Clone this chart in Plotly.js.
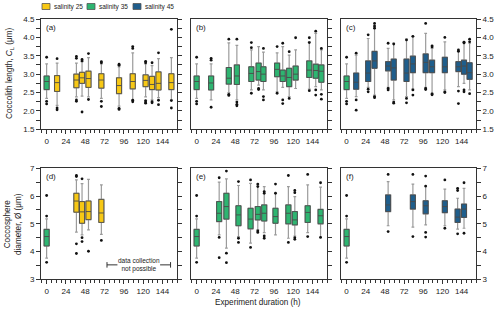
<!DOCTYPE html>
<html><head><meta charset="utf-8">
<script src="https://cdn.plot.ly/plotly-3.0.1.min.js"></script>
<style>html,body{margin:0;padding:0;background:#fff}#chart{width:500px;height:319px}</style>
</head><body><div id="chart"></div>
<script>
// ---------- data ----------
const seriesNames = ['salinity 25', 'salinity 35', 'salinity 45'];
const seriesColors = ['#F7C815', '#2EB571', '#1F5E8C'];
const panelLabels = ['(a)', '(b)', '(c)', '(d)', '(e)', '(f)'];

// control (t = 0, salinity 35) coccolith length
const ctrlL_q1 = [2.58], ctrlL_med = [2.80], ctrlL_q3 = [2.95], ctrlL_lo = [2.34], ctrlL_hi = [3.28];
const ctrlL_out = [[3.46, 2.26, 2.19]];
// control coccosphere diameter
const ctrlD_q1 = [4.20], ctrlD_med = [4.54], ctrlD_q3 = [4.80], ctrlD_lo = [3.76], ctrlD_hi = [5.18];
const ctrlD_out = [[6.02, 5.28, 3.61]];

// (a) salinity 25, coccolith length
const aT   = [13, 37, 44, 52, 68, 90, 107, 123, 131, 139, 155];
const aQ1  = [2.53, 2.63, 2.75, 2.64, 2.62, 2.47, 2.60, 2.66, 2.58, 2.57, 2.58];
const aMed = [2.77, 2.84, 2.90, 2.88, 2.84, 2.69, 2.80, 2.83, 2.72, 2.75, 2.77];
const aQ3  = [2.96, 3.00, 3.05, 3.08, 3.01, 2.90, 3.01, 2.98, 2.94, 3.06, 3.01];
const aLo  = [2.15, 2.38, 2.40, 2.38, 2.34, 2.13, 2.30, 2.38, 2.30, 2.36, 2.30];
const aHi  = [3.30, 3.30, 3.34, 3.45, 3.28, 3.20, 3.58, 3.28, 3.23, 3.42, 3.45];
const aOut = [[3.42, 2.08, 2.03], [3.48, 3.43, 2.30, 2.26], [3.40, 3.36, 1.97], [3.56, 2.31],
              [3.34, 3.31, 2.26, 2.12], [3.27, 3.24, 2.07, 2.04], [3.75, 3.70, 2.29, 2.25],
              [3.35, 3.31, 2.28, 2.24, 2.21], [3.31, 2.25, 2.22], [3.58, 2.29, 2.17], [4.22, 2.28, 2.08]];

// (b) salinity 35, coccolith length
const bT   = [18, 40, 50, 68, 77, 83, 100, 107, 115, 123, 140, 148, 155];
const bQ1  = [2.57, 2.73, 2.72, 2.80, 2.84, 2.80, 2.93, 2.80, 2.66, 2.84, 2.91, 2.89, 2.78];
const bMed = [2.76, 2.89, 2.95, 3.02, 3.07, 3.00, 3.13, 2.95, 2.91, 3.00, 3.11, 3.10, 3.08];
const bQ3  = [2.95, 3.18, 3.25, 3.20, 3.30, 3.20, 3.30, 3.11, 3.16, 3.22, 3.36, 3.27, 3.25];
const bLo  = [2.30, 2.50, 2.30, 2.57, 2.70, 2.57, 2.52, 2.64, 2.39, 2.61, 2.59, 2.66, 2.57];
const bHi  = [3.28, 3.85, 3.78, 3.66, 3.75, 3.60, 3.58, 3.75, 3.52, 3.66, 3.88, 4.11, 3.66];
const bOut = [[3.43, 3.38, 2.10], [3.95, 2.45, 2.42], [3.95, 2.24, 2.18, 2.14], [3.86, 3.72, 2.48],
              [2.61, 2.58], [3.70, 2.39, 2.30], [3.75, 2.48], [3.84, 2.30, 2.20], [3.61, 2.34],
              [3.99], [3.99, 3.86, 2.55], [4.17, 2.57, 2.43], [3.70, 2.45, 2.32]];

// (c) salinity 45, coccolith length
const cT   = [12, 27, 35, 52, 59, 75, 83, 99, 107, 123, 140, 147, 154];
const cQ1  = [2.59, 2.80, 3.16, 3.09, 2.84, 2.80, 3.04, 3.04, 3.04, 3.04, 3.07, 3.00, 2.86];
const cMed = [2.78, 3.03, 3.36, 3.22, 3.17, 3.03, 3.28, 3.32, 3.20, 3.20, 3.20, 3.22, 3.04];
const cQ3  = [3.03, 3.36, 3.62, 3.34, 3.41, 3.41, 3.49, 3.55, 3.38, 3.46, 3.34, 3.38, 3.31];
const cLo  = [2.39, 2.64, 2.43, 2.64, 2.30, 2.39, 2.59, 2.64, 2.48, 2.57, 2.66, 2.75, 2.57];
const cHi  = [3.52, 3.97, 4.29, 3.70, 3.84, 3.95, 4.02, 4.11, 3.70, 3.88, 3.61, 3.88, 3.84];
const cOut = [[3.57, 2.30, 2.02], [4.07, 2.59, 2.52], [4.38, 4.31, 4.25, 2.39, 2.36], [3.84, 2.61, 2.57],
              [3.82, 2.24, 2.21], [3.93, 2.34, 2.22], [4.03, 2.57, 2.43], [4.38, 2.61, 2.58],
              [3.77, 3.74, 2.46, 2.44], [4.00, 2.52, 2.50], [3.66, 3.62, 2.54, 2.20],
              [3.87, 3.85, 2.57, 2.52], [3.95, 3.88, 2.47]];

// (d) salinity 25, coccosphere diameter
const dT   = [37, 44, 52, 68];
const dQ1  = [5.42, 5.02, 5.15, 5.05];
const dMed = [5.82, 5.43, 5.44, 5.39];
const dQ3  = [6.10, 5.80, 5.82, 5.88];
const dLo  = [4.70, 4.60, 4.78, 4.62];
const dHi  = [6.58, 6.45, 6.60, 6.40];
const dOut = [[6.74, 6.70, 4.28, 3.93], [6.62, 4.50, 4.36], [4.01], [4.40]];

// (e) salinity 35, coccosphere diameter
const eT   = [28, 37, 52, 67, 76, 84, 98, 114, 122, 138, 154];
const eQ1  = [5.08, 5.17, 4.93, 4.82, 5.14, 5.10, 5.02, 5.00, 4.96, 5.05, 5.00];
const eMed = [5.38, 5.62, 5.32, 5.17, 5.34, 5.38, 5.26, 5.38, 5.14, 5.41, 5.29];
const eQ3  = [5.80, 6.10, 5.65, 5.56, 5.62, 5.68, 5.56, 5.68, 5.44, 5.65, 5.52];
const eLo  = [4.60, 4.12, 4.54, 4.30, 4.78, 4.68, 4.60, 4.48, 4.56, 4.68, 4.51];
const eHi  = [6.50, 6.62, 6.38, 6.46, 6.40, 6.34, 6.10, 6.34, 5.98, 6.40, 6.32];
const eOut = [[6.66, 4.51, 3.78], [6.90, 3.94, 3.60], [6.52, 4.48, 4.33], [6.58, 4.15],
              [6.43, 6.34, 4.74, 4.69], [6.16, 6.10, 4.56, 4.48], [6.43, 6.10], [6.74, 4.33],
              [6.20, 6.12, 4.50, 4.44], [6.78, 4.54], [6.48, 4.51]];

// (f) salinity 45, coccosphere diameter
const fT   = [52, 83, 99, 123, 139, 147];
const fQ1  = [5.44, 5.53, 5.36, 5.40, 5.05, 5.23];
const fMed = [5.68, 5.80, 5.65, 5.62, 5.24, 5.53];
const fQ3  = [6.04, 6.04, 5.83, 5.83, 5.53, 5.71];
const fLo  = [4.93, 4.88, 4.96, 4.93, 4.81, 4.84];
const fHi  = [6.52, 6.43, 6.34, 6.25, 5.92, 6.28];
const fOut = [[6.78, 4.72], [6.78, 4.54], [6.72, 6.36, 4.69, 4.52], [6.58, 4.84], [6.28, 6.20, 4.64], [6.48, 4.66]];

const ctrlT = [0];
const naRange = [75, 154];   // "data collection not possible" span (h)

// ---------- drawing ----------
const FONT = 'Liberation Sans, Arial, sans-serif';
const AX = '#333';
const TXT = '#222';
const BOXW = 6.3;
const traces = [];

function addBoxes(ax, t, q1, med, q3, lo, hi, out, color) {
  const xa = 'x' + (ax === 1 ? '' : ax), ya = 'y' + (ax === 1 ? '' : ax);
  traces.push({type: 'box', x: t, q1: q1, median: med, q3: q3, lowerfence: lo, upperfence: hi,
    xaxis: xa, yaxis: ya, width: BOXW, whiskerwidth: 0.55, fillcolor: color,
    line: {color: '#9b9b9b', width: 1.2}, boxpoints: false, showlegend: false, hoverinfo: 'skip'});
  traces.push({type: 'box', x: t, q1: q1, median: med, q3: q3, lowerfence: q1, upperfence: q3,
    xaxis: xa, yaxis: ya, width: BOXW, whiskerwidth: 0, fillcolor: color,
    line: {color: '#4a4a4a', width: 0.9}, boxpoints: false, showlegend: false, hoverinfo: 'skip'});
  const ox = [], oy = [];
  out.forEach((arr, i) => arr.forEach(v => { ox.push(t[i]); oy.push(v); }));
  traces.push({type: 'scatter', mode: 'markers', x: ox, y: oy, xaxis: xa, yaxis: ya,
    marker: {color: '#111', size: 2.8, symbol: 'circle'}, showlegend: false, hoverinfo: 'skip'});
}

[1, 2, 3].forEach(p => addBoxes(p, ctrlT, ctrlL_q1, ctrlL_med, ctrlL_q3, ctrlL_lo, ctrlL_hi, ctrlL_out, seriesColors[1]));
[4, 5, 6].forEach(p => addBoxes(p, ctrlT, ctrlD_q1, ctrlD_med, ctrlD_q3, ctrlD_lo, ctrlD_hi, ctrlD_out, seriesColors[1]));
addBoxes(1, aT, aQ1, aMed, aQ3, aLo, aHi, aOut, seriesColors[0]);
addBoxes(2, bT, bQ1, bMed, bQ3, bLo, bHi, bOut, seriesColors[1]);
addBoxes(3, cT, cQ1, cMed, cQ3, cLo, cHi, cOut, seriesColors[2]);
addBoxes(4, dT, dQ1, dMed, dQ3, dLo, dHi, dOut, seriesColors[0]);
addBoxes(5, eT, eQ1, eMed, eQ3, eLo, eHi, eOut, seriesColors[1]);
addBoxes(6, fT, fQ1, fMed, fQ3, fLo, fHi, fOut, seriesColors[2]);

const W = 500, H = 319;
const px = v => v / W, py = v => 1 - v / H;
const xDom = [[px(41), px(177)], [px(191), px(327)], [px(341), px(476)]];
const yDom = [[py(129.3), py(19)], [py(279.3), py(168.3)]];

function xAxis(i, row) {
  const n = row * 3 + i + 1;
  return {domain: xDom[i], anchor: 'y' + (n === 1 ? '' : n),
    range: [-7, 162], tickmode: 'linear', tick0: 0, dtick: 24, ticks: 'outside', ticklen: 4,
    tickwidth: 1, tickcolor: AX, showline: true, linecolor: AX, linewidth: 1, mirror: true,
    showgrid: false, zeroline: false, tickfont: {family: FONT, size: 8, color: TXT},
    minor: {tickmode: 'linear', tick0: 0, dtick: 6, ticks: 'outside', ticklen: 2.5, tickcolor: AX, tickwidth: 1, showgrid: false},
    fixedrange: true};
}
function yAxis(i, row) {
  const top = row === 0, n = row * 3 + i + 1;
  const o = {domain: yDom[row], anchor: 'x' + (n === 1 ? '' : n),
    range: top ? [1.5, 4.5] : [3, 7], tickmode: 'linear', tick0: top ? 1.5 : 3, dtick: top ? 0.5 : 1,
    tickformat: top ? '.1f' : 'd', ticks: 'outside', ticklen: 4, tickwidth: 1, tickcolor: AX,
    showline: true, linecolor: AX, linewidth: 1, showgrid: false, zeroline: false,
    tickfont: {family: FONT, size: 8, color: TXT},
    minor: {tickmode: 'linear', tick0: top ? 1.5 : 3, dtick: top ? 0.25 : 0.5, ticks: 'outside', ticklen: 4, tickcolor: AX, tickwidth: 1, showgrid: false},
    fixedrange: true};
  if (i === 0) { o.side = 'left'; o.mirror = 'ticks'; }
  else { o.side = 'right'; o.mirror = true; o.showticklabels = (i === 2); }
  return o;
}

const layout = {width: W, height: H, margin: {l: 0, r: 0, t: 0, b: 0},
  paper_bgcolor: '#fff', plot_bgcolor: '#fff', showlegend: false, boxmode: 'overlay',
  font: {family: FONT, size: 8, color: TXT}, annotations: [], shapes: []};
for (let row = 0; row < 2; row++) for (let i = 0; i < 3; i++) {
  const n = row * 3 + i + 1, s = n === 1 ? '' : n;
  layout['xaxis' + s] = xAxis(i, row);
  layout['yaxis' + s] = yAxis(i, row);
  layout.annotations.push({xref: 'x' + s + ' domain', yref: 'y' + s + ' domain', x: 0.025, y: 0.985,
    xanchor: 'left', yanchor: 'top', showarrow: false, text: panelLabels[n - 1],
    font: {family: FONT, size: 8, color: TXT}});
}

// axis titles
const titleFont = {family: FONT, size: 8.2, color: TXT};
layout.annotations.push({xref: 'paper', yref: 'paper', x: px(10), y: py(74), textangle: -90,
  xanchor: 'center', yanchor: 'middle',
  showarrow: false, text: 'Coccolith length, <i>C</i><sub>L</sub> (μm)', font: titleFont});
layout.annotations.push({xref: 'paper', yref: 'paper', x: px(13), y: py(224), textangle: -90,
  xanchor: 'center', yanchor: 'middle',
  showarrow: false, text: 'Coccosphere<br>diameter, Ø (μm)', font: titleFont});
layout.annotations.push({xref: 'paper', yref: 'paper', x: px(258), y: py(302),
  xanchor: 'center', yanchor: 'middle',
  showarrow: false, text: 'Experiment duration (h)', font: titleFont});

// "data collection not possible" bracket in (d)
const naY = 3.52, naMid = (naRange[0] + naRange[1]) / 2;
layout.annotations.push({xref: 'x4', yref: 'y4', x: naMid, y: naY, xanchor: 'center', yanchor: 'middle',
  showarrow: false, text: 'data collection<br>not possible', font: {family: FONT, size: 6.5, color: TXT}});
const segW = 13;
[[naRange[0], naRange[0] + segW], [naRange[1] - segW, naRange[1]]].forEach(([a, b]) =>
  layout.shapes.push({type: 'line', xref: 'x4', yref: 'y4', x0: a, x1: b, y0: naY, y1: naY, line: {color: '#333', width: 1}}));
naRange.forEach(v => layout.shapes.push({type: 'line', xref: 'x4', yref: 'y4', x0: v, x1: v, y0: naY - 0.1, y1: naY + 0.1, line: {color: '#333', width: 1}}));

// legend
const legX = [42, 87, 133];
seriesNames.forEach((nm, i) => {
  layout.shapes.push({type: 'rect', xref: 'paper', yref: 'paper', x0: px(legX[i]), x1: px(legX[i] + 8),
    y0: py(9.5), y1: py(3.5), fillcolor: seriesColors[i], line: {color: '#555', width: 0.8}});
  layout.annotations.push({xref: 'paper', yref: 'paper', x: px(legX[i] + 10), y: py(6.5), xanchor: 'left',
    yanchor: 'middle', showarrow: false, text: nm, font: {family: FONT, size: 6.5, color: TXT}});
});

Plotly.newPlot('chart', traces, layout, {staticPlot: true, displayModeBar: false});
</script></body></html>
